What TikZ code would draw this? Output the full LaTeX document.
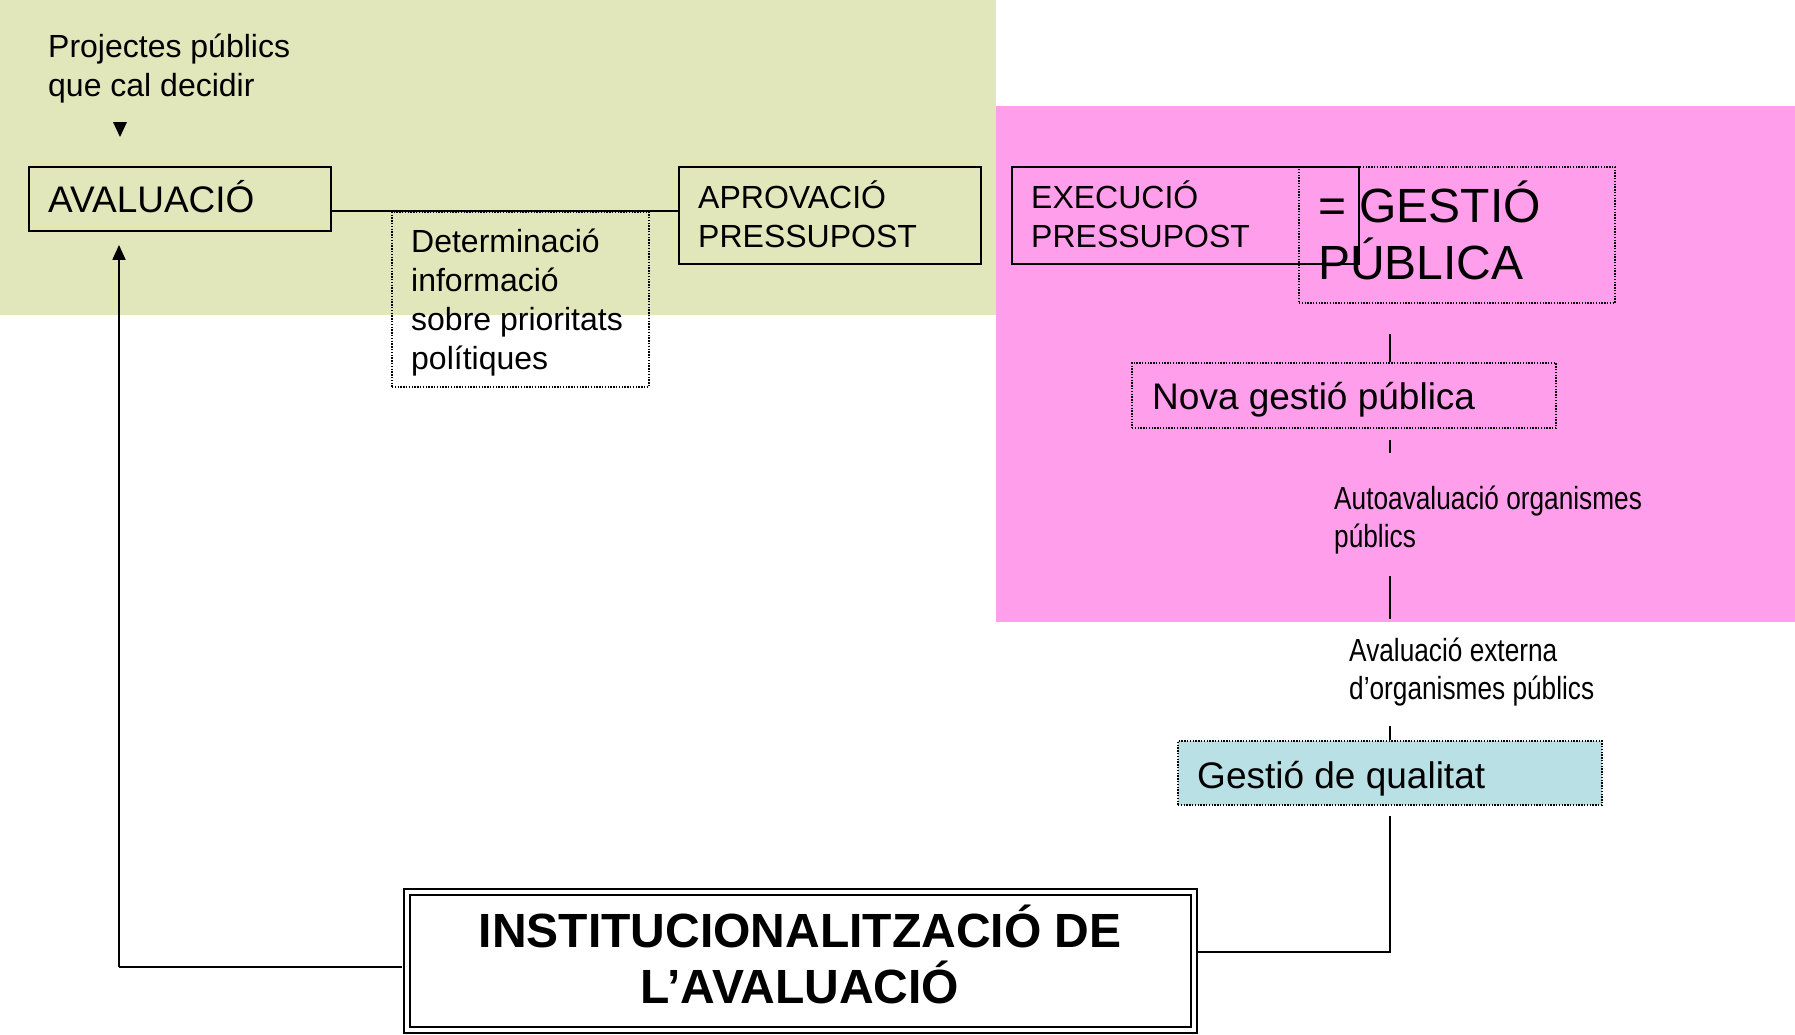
\documentclass[tikz,border=0pt]{standalone}
\usepackage{fontspec}
\setmainfont{Liberation Sans}
\newfontfamily\narrowfont[FakeStretch=0.82]{Liberation Sans}
\usetikzlibrary{arrows.meta}
\definecolor{bggreen}{RGB}{226,230,187}
\definecolor{bgpink}{RGB}{255,158,235}
\definecolor{qcyan}{RGB}{185,224,228}
\begin{document}
\begin{tikzpicture}[x=1pt,y=-1pt,
  solidbox/.style={draw, line width=1.8pt, inner sep=0pt},
  dotbox/.style={draw, line width=1.4pt, dash pattern=on 1.4pt off 1.4pt, inner sep=0pt},
  conn/.style={line width=1.8pt},
  freetext/.style={anchor=west, inner sep=0pt, align=left},
  fmid/.style={font=\fontsize{32}{39}\selectfont},
  fbig/.style={font=\fontsize{37}{43}\selectfont},
  fhuge/.style={font=\fontsize{48}{57}\selectfont},
  fnarrow/.style={font=\narrowfont\fontsize{32}{38}\selectfont}]
\useasboundingbox (0,0) rectangle (1795,1034);
\fill[bggreen] (0,0) rectangle (996,315);
\fill[bgpink] (996,106) rectangle (1795,622);

% boxes
\node[solidbox, minimum width=302pt, minimum height=64pt] (aval) at (180,199) {};
\node[solidbox, minimum width=302pt, minimum height=97pt] (aprov) at (830,215.5) {};
\node[dotbox, minimum width=257pt, minimum height=175pt] (det) at (520.5,299.5) {};
\node[solidbox, minimum width=347pt, minimum height=97pt] (exec) at (1185.5,215.5) {};
\node[dotbox, minimum width=316pt, minimum height=136pt] (gestio) at (1457,235) {};
\node[dotbox, minimum width=424pt, minimum height=65pt] (nova) at (1344,395.5) {};
\node[dotbox, fill=qcyan, minimum width=424pt, minimum height=64pt] (qual) at (1390,773) {};
\node[draw, line width=2pt, double=white, double distance=4pt, minimum width=787pt, minimum height=137.5pt] (inst) at (800,961) {};

% texts
\node[freetext, fmid] (proj) at (48,68.4) {Projectes públics\\que cal decidir};
\fill (113,122) -- (127,122) -- (120,137) -- cycle;
\node[freetext, fbig] (avalt) at (48,196.7) {AVALUACIÓ};
\node[freetext, fmid] (aprovt) at (698,213.8) {APROVACIÓ\\PRESSUPOST};
\node[freetext, fmid] (dett) at (411,302.9) {Determinació\\informació\\sobre prioritats\\polítiques};
\node[freetext, fmid] (exect) at (1031,213.8) {EXECUCIÓ\\PRESSUPOST};
\node[freetext, fhuge] (gestiot) at (1318,230.4) {= GESTIÓ\\PÚBLICA};
\node[freetext, fbig] (novat) at (1152,400.1) {Nova gestió pública};
\node[freetext, fnarrow] (auto) at (1334,520.3) {Autoavaluació organismes\\públics};
\node[freetext, fnarrow] (ext) at (1349,672.3) {Avaluació externa\\d’organismes públics};
\node[freetext, fbig] (qualt) at (1197,778.7) {Gestió de qualitat};
\node[inner sep=0pt, align=center, font=\bfseries\fontsize{48}{56}\selectfont] (instt) at (800,954.1) {INSTITUCIONALITZACIÓ DE\\L’AVALUACIÓ};

% connectors
\draw[conn] (aval.east |- det.north) -- (aprov.west |- det.north);

\coordinate (s1) at (1390,334);
\coordinate (s2) at (1390,440);
\coordinate (s2e) at (1390,453);
\coordinate (s3) at (1390,576);
\coordinate (s3e) at (1390,619);
\coordinate (s4) at (1390,726);
\coordinate (s5) at (1390,816);
\coordinate (s6) at (1390,952);
\draw[conn] (s1) -- (s1 |- nova.north);
\draw[conn] (s2) -- (s2e);
\draw[conn] (s3) -- (s3e);
\draw[conn] (s4) -- (qual.north);
\draw[conn, shorten >=3.5pt] (s5) -- (s6) -- (s6 -| inst.east);

\coordinate (l1) at (119,967);
\draw[conn, shorten <=3.5pt] (l1 -| inst.west) -- (l1);
\draw[conn, -{Triangle[length=15pt,width=13pt]}, shorten >=13pt] (l1) -- (l1 |- aval.south);
\end{tikzpicture}
\end{document}
